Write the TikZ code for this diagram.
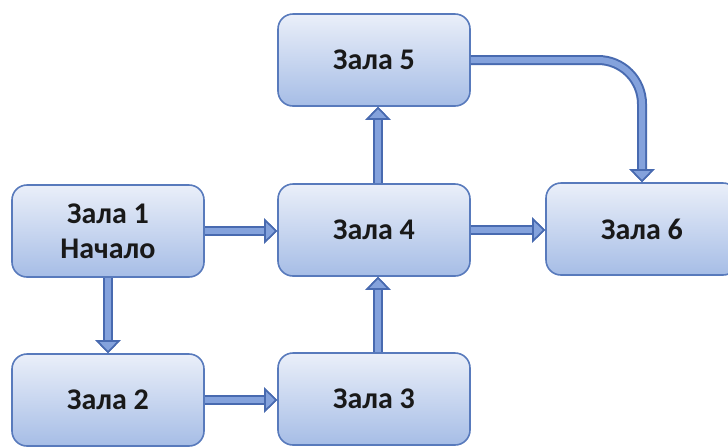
\documentclass[tikz,border=0pt]{standalone}
\usepackage{fontspec}
\setmainfont{Carlito}
\usetikzlibrary{arrows.meta}
\definecolor{boxtop}{RGB}{234,239,249}
\definecolor{boxbot}{RGB}{166,189,230}
\definecolor{boxedge}{RGB}{88,122,188}
\definecolor{arrfill}{RGB}{132,162,220}
\definecolor{arredge}{RGB}{72,106,176}
\begin{document}
\begin{tikzpicture}[x=0.5pt, y=-0.5pt,
    zala/.style={draw=boxedge, line width=0.8pt, rounded corners=7.5pt,
      top color=boxtop, bottom color=boxbot,
      minimum width=96pt, minimum height=46pt, align=center,
      font=\fontsize{15}{17.5}\selectfont\bfseries, text=black!90},
    flow/.style={draw=arrfill, line width=3pt,
      preaction={draw=arredge, line width=5pt},
      -{Triangle[open, color=arredge, fill=arrfill, length=6.5pt, width=12.5pt, line width=0.8pt]}}]

    \useasboundingbox (0,0) rectangle (728,446);

    \node[zala] (z5) at (374,60) {Зала 5};
    \node[zala] (z1) at (108,231) {Зала 1\\Начало};
    \node[zala] (z4) at (374,230) {Зала 4};
    \node[zala] (z6) at (642,229) {Зала 6};
    \node[zala] (z2) at (108,400) {Зала 2};
    \node[zala] (z3) at (374,399) {Зала 3};

    \draw[flow] (z1.east) -- (z1.east -| z4.west);
    \draw[flow] (z1.south) -- (z2.north);
    \draw[flow] (z2.east) -- (z2.east -| z3.west);
    \draw[flow] ([xshift=2pt]z3.north) -- ([xshift=2pt]z4.south);
    \draw[flow] ([xshift=2pt]z4.north) -- ([xshift=2pt]z5.south);
    \draw[flow] (z4.east) -- (z4.east -| z6.west);
    \draw[flow, rounded corners=22pt] (z5.east) -| (z6.north);
\end{tikzpicture}
\end{document}
